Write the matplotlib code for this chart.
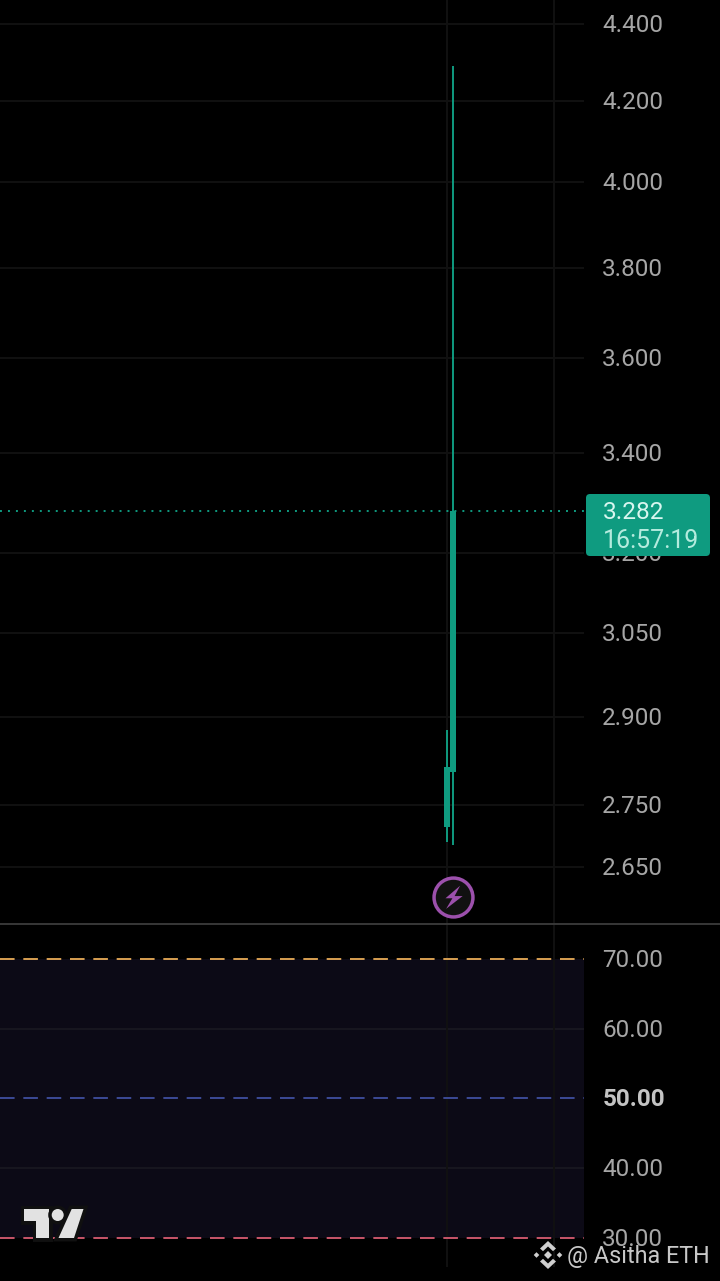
import matplotlib
matplotlib.use('Agg')
import matplotlib.pyplot as plt
from matplotlib.patches import FancyBboxPatch, Polygon, Circle
from matplotlib.lines import Line2D
from matplotlib.ticker import FixedLocator, FixedFormatter, NullLocator
from matplotlib.transforms import Affine2D, ScaledTranslation
import matplotlib.patheffects as pe

plt.rcParams['font.family'] = ['Roboto', 'DejaVu Sans']

# price pane
price_ticks = [2.65, 2.75, 2.9, 3.05, 3.2, 3.4, 3.6, 3.8, 4.0, 4.2, 4.4]
price_labels = ['2.650', '2.750', '2.900', '3.050', '3.200', '3.400', '3.600', '3.800', '4.000', '4.200', '4.400']
bar_x = [0, 1]
opens = [2.714, 2.805]
closes = [2.814, 3.282]
highs = [2.877, 4.290]
lows = [2.690, 2.685]
last_price = 3.282
countdown = '16:57:19'
event_x = 1
event_price = 2.602
time_grid = [0, 17.83]

# rsi pane
rsi_ticks = [30, 40, 50, 60, 70]
rsi_labels = ['30.00', '40.00', '50.00', '60.00', '70.00']

GREEN = '#0f9b80'
GRID = '#111111'
TXT = '#a6a6a6'
W, H = 720, 1281

fig = plt.figure(figsize=(W / 100, H / 100), dpi=100, facecolor='black')
ax = fig.add_axes([0, (H - 924) / H, 584 / W, 924 / H], facecolor='black')
ax2 = fig.add_axes([0, (H - 1267) / H, 584 / W, 343 / H], facecolor='black')

# pixel transform for the overlays (y goes down like in the screenshot)
px = Affine2D().scale(1, -1).translate(0, H)

# ---- price ----
ax.set_yscale('log')
ax.set_ylim(2.5606, 4.464)
ax.set_xlim(-74.5, 22.83)
for p in price_ticks:
    ax.axhline(p, color=GRID, lw=1.4, zorder=1)
for t in time_grid:
    ax.axvline(t, color=GRID, lw=1.4, zorder=1)

ax.axhline(last_price, color=GREEN, lw=1.4, ls=(0, (1, 3.1)), zorder=2)

for i in range(len(bar_x)):
    ax.vlines(bar_x[i], lows[i], highs[i], color=GREEN, lw=1.4, zorder=3)
    ax.bar(bar_x[i], closes[i] - opens[i], bottom=opens[i], width=0.97, color=GREEN, zorder=4)

# lightning marker
ax.plot([event_x], [event_price], marker='o', ms=28, mfc='#111111', mec='#9c50ac', mew=2.5, zorder=5)
bolt = [(6, 10.7), (-7.3, -0.7), (-1, -0.7), (-6.7, -10.3), (8.3, 1.3), (1, 1.3)]
ax.plot([event_x], [event_price], marker=bolt, ms=17, mfc='#9c50ac', mec='none', zorder=6)

ax.yaxis.set_major_locator(FixedLocator(price_ticks))
ax.yaxis.set_major_formatter(FixedFormatter(price_labels))
ax.yaxis.set_minor_locator(NullLocator())

# ---- rsi ----
ax2.set_ylim(25.84, 75.02)
ax2.set_xlim(-74.5, 22.83)
ax2.axhspan(30, 70, color='#0c0a16', lw=0, zorder=0)
ax2.axhline(60, color='#181720', lw=1.4, zorder=1)
ax2.axhline(40, color='#181720', lw=1.4, zorder=1)
for t in time_grid:
    ax2.axvline(t, color=GRID, lw=1.4, zorder=1)
ax2.axhline(70, color='#d8a052', lw=1.4, ls=(0, (7.5, 4.5)), zorder=2)
ax2.axhline(50, color='#3c4a96', lw=1.4, ls=(0, (7.5, 4.5)), zorder=2)
ax2.axhline(30, color='#c9566a', lw=1.4, ls=(0, (7.5, 4.5)), zorder=2)
ax2.yaxis.set_major_locator(FixedLocator(rsi_ticks))
ax2.yaxis.set_major_formatter(FixedFormatter(rsi_labels))

up1 = ScaledTranslation(0, 1 / 100, fig.dpi_scale_trans)
for a in (ax, ax2):
    a.yaxis.tick_right()
    a.tick_params(axis='y', length=0, pad=13.2, labelsize=17.5, labelcolor=TXT)
    a.set_xticks([])
    for s in a.spines.values():
        s.set_visible(False)
    for lab in a.get_yticklabels():
        lab.set_transform(lab.get_transform() + up1)

for lab, txt in zip(ax2.get_yticklabels(), rsi_labels):
    if txt == '50.00':
        lab.set_fontweight('bold')
        lab.set_color('#c4c4c4')

# pane separator
fig.add_artist(Line2D([0, W], [924, 924], color='#3c3c3c', lw=1.3, transform=px, zorder=3))

# ---- last price badge ----
fig.add_artist(FancyBboxPatch((589, 497), 118, 56, boxstyle='round,pad=3,rounding_size=4', fc=GREEN,
                              ec='none', transform=px, zorder=5))
fig.text(603 / W, (H - 510) / H, '%.3f' % last_price, color='#d8f6ef', fontsize=17.6, va='center_baseline',
         ha='left', zorder=6)
fig.text(603 / W, (H - 538) / H, countdown, color='#b4ebde', fontsize=18, va='center_baseline',
         ha='left', zorder=6)

# ---- tradingview logo ----
halo = [pe.withStroke(linewidth=5, foreground='#101010')]
LOGO = '#e2e2e2'
fig.add_artist(Polygon([(24, 1209), (49, 1209), (49, 1238), (36, 1238), (36, 1221), (24, 1221)], fc=LOGO, ec='none',
                       transform=px, zorder=4, path_effects=halo))
fig.add_artist(Circle((57.7, 1215), 6, fc=LOGO, ec='none', transform=px, zorder=4, path_effects=halo))
fig.add_artist(Polygon([(71.7, 1209), (83.5, 1209), (74, 1238), (58.5, 1238)], fc=LOGO, ec='none',
                       transform=px, zorder=4, path_effects=halo))

# ---- watermark ----
MARK = '#cfcfcf'
cx, cy = 548, 1255
def diamond(x, y, r):
    return Polygon([(x, y - r), (x + r, y), (x, y + r), (x - r, y)], fc=MARK, ec='none', transform=px, zorder=7)
fig.add_artist(diamond(cx, cy, 4))
fig.add_artist(diamond(cx - 11.5, cy, 2.8))
fig.add_artist(diamond(cx + 11.5, cy, 2.8))
for sgn in (-1, 1):
    fig.add_artist(Polygon([(cx, cy + sgn * 14), (cx + 8, cy + sgn * 6.5), (cx + 5, cy + sgn * 3.8), (cx, cy + sgn * 8.5),
                            (cx - 5, cy + sgn * 3.8), (cx - 8, cy + sgn * 6.5)], fc=MARK, ec='none',
                           transform=px, zorder=7))
fig.text(567 / W, (H - 1254) / H, '@ Asitha ETH', color='#c8c8c8', fontsize=16.8, va='center_baseline', ha='left', zorder=7)

fig.savefig('out.png', dpi=100, facecolor='black')
